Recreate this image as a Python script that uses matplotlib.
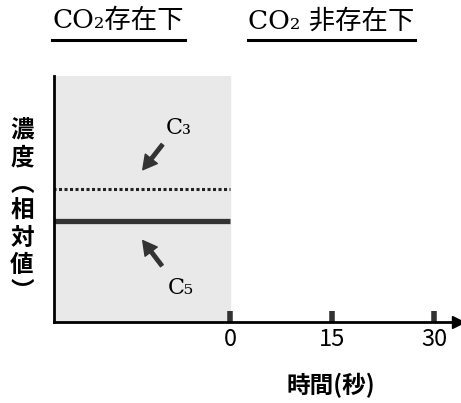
import matplotlib.pyplot as plt
from matplotlib.lines import Line2D

plt.rcParams['font.family'] = ['Noto Sans CJK JP', 'DejaVu Sans']

# data
time_present = [-26, 0]
c3_level = [5.4, 5.4]
c5_level = [4.1, 4.1]
time_ticks = [0, 15, 30]
tick_labels = ['0', '15', '30']
title_left = 'CO₂存在下'
title_right = 'CO₂ 非存在下'

fig = plt.figure(figsize=(4.61, 4.03), dpi=100)
W, H = 461, 403
ax = fig.add_axes([54 / W, (H - 322) / H, (458 - 54) / W, (322 - 76) / H])

ax.set_xlim(-25.9, 33.5)
ax.set_ylim(0, 10)

# CO2 present region
ax.axvspan(-25.9, 0, color='#e9e9e9', zorder=0)

ax.plot(time_present, c3_level, color='#222222', lw=2.2, ls=(0, (1, 0.8)))
ax.plot(time_present, c5_level, color='#333333', lw=3.8, solid_capstyle='butt')

ax.annotate('', xy=(-13.1, 6.1), xytext=(-9.7, 7.3),
            arrowprops=dict(arrowstyle='simple,head_width=1.1,head_length=1.0,tail_width=0.25',
                            color='#333333'))
ax.annotate('', xy=(-13.1, 3.4), xytext=(-9.8, 2.2),
            arrowprops=dict(arrowstyle='simple,head_width=1.1,head_length=1.0,tail_width=0.25',
                            color='#333333'))
ax.text(-9.4, 7.9, 'C₃', family='DejaVu Serif', fontsize=16, ha='left', va='center')
ax.text(-9.2, 1.4, 'C₅', family='DejaVu Serif', fontsize=16, ha='left', va='center')

for s in ['top', 'right']:
    ax.spines[s].set_visible(False)
ax.spines['left'].set_linewidth(2)
ax.spines['bottom'].set_linewidth(2)
ax.plot(1, 0, '>', color='black', ms=8, transform=ax.get_yaxis_transform(), clip_on=False)

ax.set_yticks([])
ax.set_xticks(time_ticks)
ax.set_xticklabels(tick_labels, fontsize=17)
ax.tick_params(axis='x', direction='in', length=8, width=4, color='#333333', pad=4)

# titles with underline
fig.text(118 / W, 1 - 21 / H, title_left, family=['DejaVu Serif', 'Noto Sans CJK JP'],
         fontsize=19, ha='center', va='center')
fig.text(331 / W, 1 - 21 / H, title_right, family=['DejaVu Serif', 'Noto Sans CJK JP'],
         fontsize=19, ha='center', va='center')
fig.add_artist(Line2D([52 / W, 185 / W], [1 - 40 / H, 1 - 40 / H], color='black', lw=2.2))
fig.add_artist(Line2D([248 / W, 415 / W], [1 - 40 / H, 1 - 40 / H], color='black', lw=2.2))

# axis labels
fig.text(22 / W, 1 - 211 / H, '濃\n度\n︵\n相\n対\n値\n︶', fontsize=17, fontweight='bold',
         ha='center', va='center', linespacing=1.15)
fig.text(331 / W, 1 - 385 / H, '時間(秒)', fontsize=17, fontweight='bold',
         ha='center', va='center')

fig.savefig('out.png', dpi=100)
